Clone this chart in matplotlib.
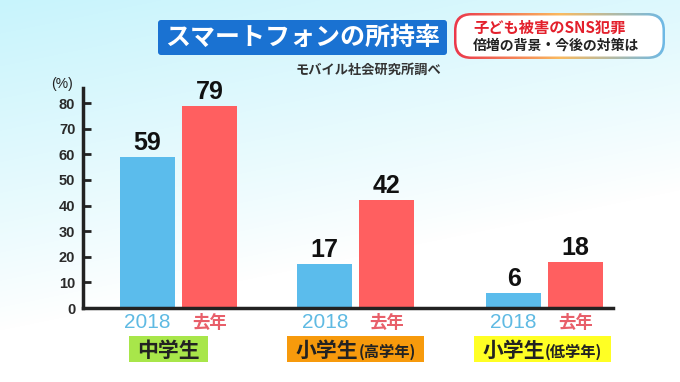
import numpy as np
import matplotlib

matplotlib.use("Agg")
import matplotlib.pyplot as plt
from matplotlib.patches import FancyBboxPatch, Rectangle

plt.rcParams["font.family"] = ["Noto Sans CJK JP", "DejaVu Sans"]
NUM_FONT = ["Liberation Sans", "DejaVu Sans"]

# data
groups = ["中学生", "小学生", "小学生"]
group_notes = ["", "(高学年)", "(低学年)"]
series_names = ["2018", "去年"]
values_2018 = [59, 17, 6]
values_last = [79, 42, 18]
y_ticks = [0, 10, 20, 30, 40, 50, 60, 70, 80]

title = "スマートフォンの所持率"
source = "モバイル社会研究所調べ"
headline = ["子ども被害のSNS犯罪", "倍増の背景・今後の対策は"]

BLUE = "#5bbcec"
RED = "#ff5f60"
BOX_COLORS = ["#a8e64a", "#f79a0c", "#ffff24"]
W, H = 680, 382

fig = plt.figure(figsize=(W / 100, H / 100), dpi=100)

# soft cyan background fading to white
bg = fig.add_axes([0, 0, 1, 1], zorder=-10)
yy, xx = np.mgrid[0:H, 0:W]
wgt = np.clip(1 - yy / 330 - xx / 1600, 0, 1) ** 0.9
cyan = np.array([200, 244, 252]) / 255
bg.imshow(1 - wgt[..., None] * (1 - cyan), extent=[0, W, H, 0], aspect="auto")
bg.set_xlim(0, W)
bg.set_ylim(H, 0)
bg.set_axis_off()

# main chart
ax = fig.add_axes([83 / W, 1 - 308 / H, (613 - 83) / W, (308 - 88) / H])
ax.patch.set_alpha(0)
group_pos = np.array([0, 0.968, 2.0])
bar_w, off = 0.30, 0.169
ax.bar(group_pos - off, values_2018, bar_w, color=BLUE)
ax.bar(group_pos + off, values_last, bar_w, color=RED)
ax.set_xlim(-0.522, 2.374)
ax.set_ylim(0, 85.9)
ax.set_yticks(y_ticks)
ax.set_xticks([])
for s in ["top", "right"]:
    ax.spines[s].set_visible(False)
for s in ["left", "bottom"]:
    ax.spines[s].set_linewidth(2.5)
    ax.spines[s].set_color("#222222")
ax.tick_params(axis="y", direction="in", length=6, width=2, color="#222222",
               labelsize=10.5, pad=5.5, labelcolor="#2a2a2a")
for lab in ax.get_yticklabels():
    lab.set_family(NUM_FONT)
    lab.set_fontweight("bold")

for xs, vals in [(group_pos - off, values_2018), (group_pos + off, values_last)]:
    for x, v in zip(xs, vals):
        ax.annotate(str(v), (x, v), xytext=(0, 2), textcoords="offset pixels",
                    ha="center", va="bottom", fontsize=18, weight="bold",
                    family=NUM_FONT, color="#111111")

for x in group_pos - off:
    ax.annotate(series_names[0], (x, 0), xytext=(0, -15), textcoords="offset pixels",
                ha="center", va="center", fontsize=15, family=NUM_FONT,
                color="#5fbae3", annotation_clip=False)
for x in group_pos + off:
    ax.annotate(series_names[1], (x, 0), xytext=(0, -15), textcoords="offset pixels",
                ha="center", va="center", fontsize=12.5, weight="bold",
                color="#e85f6a", annotation_clip=False)

# decorations in pixel coordinates
deco = fig.add_axes([0, 0, 1, 1], zorder=5)
deco.patch.set_alpha(0)
deco.set_axis_off()

deco.text(62, 84, "(%)", ha="center", va="center", fontsize=10, family=NUM_FONT, color="#222222")

deco.add_patch(FancyBboxPatch((158, 20), 289, 35, boxstyle="round,pad=0,rounding_size=3",
                              fc="#1a72d2", ec="none"))
deco.text(302.5, 37.5, title, ha="center", va="center", fontsize=18, weight="bold", color="white")
deco.text(441, 70, source, ha="right", va="center", fontsize=9.5, weight="bold", color="#333333")

# headline box with gradient border
outer = FancyBboxPatch((454, 13), 211, 46, boxstyle="round,pad=0,rounding_size=17",
                       fc="none", ec="none")
deco.add_patch(outer)
gx = np.linspace(0, 1, 200)
grad = np.zeros((2, 200, 3))
c_left = np.array([235, 55, 75]) / 255
c_mid = np.array([250, 185, 95]) / 255
c_right = np.array([110, 185, 230]) / 255
for k in range(3):
    grad[:, :, k] = np.interp(gx, [0, 0.5, 1], [c_left[k], c_mid[k], c_right[k]])
im = deco.imshow(grad, extent=[454, 665, 59, 13], aspect="auto")
im.set_clip_path(outer)
deco.add_patch(FancyBboxPatch((456.5, 15.5), 206, 41, boxstyle="round,pad=0,rounding_size=15",
                              fc="white", ec="none"))
deco.text(473, 28, headline[0], ha="left", va="center", fontsize=11, weight="bold", color="#e3202c")
deco.text(473, 46, headline[1], ha="left", va="center", fontsize=10, weight="bold", color="#222222")

deco.set_xlim(0, W)
deco.set_ylim(H, 0)

# group labels with coloured boxes
renderer = fig.canvas.get_renderer()
label_shift = [-10, 0, -2]
for i, (g, note) in enumerate(zip(groups, group_notes)):
    cx = ax.transData.transform((group_pos[i], 0))[0] + label_shift[i]
    t1 = deco.text(0, 357, g, ha="left", va="baseline", fontsize=15, weight="bold", color="#222222")
    w1 = t1.get_window_extent(renderer).width
    w2 = 0
    t2 = None
    if note:
        t2 = deco.text(0, 357, note, ha="left", va="baseline", fontsize=11, weight="bold", color="#222222")
        w2 = t2.get_window_extent(renderer).width
    left = cx - (w1 + w2) / 2
    t1.set_x(left)
    if t2 is not None:
        t2.set_x(left + w1)
    deco.add_patch(Rectangle((left - 8.5, 336), w1 + w2 + 17, 26, fc=BOX_COLORS[i], ec="none", zorder=0))

fig.savefig("out.png", dpi=100)
